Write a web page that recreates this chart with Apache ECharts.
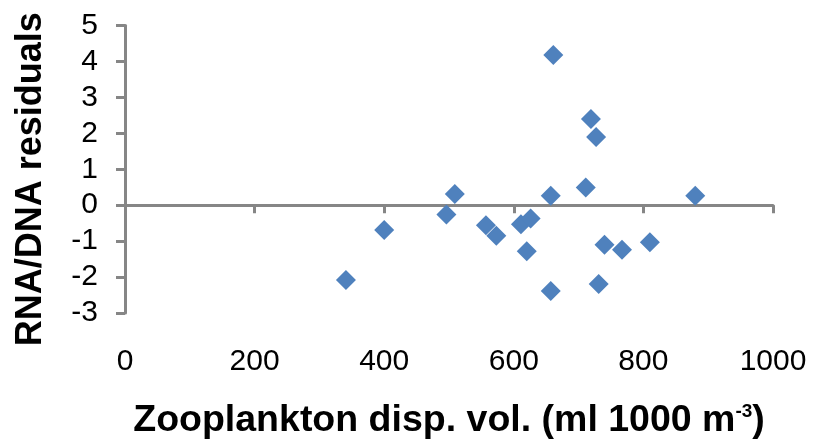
<!DOCTYPE html>
<html>
<head>
<meta charset="utf-8">
<script src="https://cdn.jsdelivr.net/npm/echarts@6/dist/echarts.min.js"></script>
<style>
html,body{margin:0;padding:0;background:#fff;}
#chart{width:820px;height:445px;}
</style>
</head>
<body>
<div id="chart"></div>
<script>
// Zooplankton displacement volume (x) vs RNA/DNA residuals (y)
var zooVol = [341, 400, 509, 496, 557, 573, 611, 626, 620, 657, 657, 711, 740, 731, 767, 810, 880, 661, 719, 727];
var residuals = [-2.08, -0.69, 0.31, -0.26, -0.56, -0.85, -0.53, -0.37, -1.28, 0.26, -2.39, 0.49, -1.10, -2.19, -1.24, -1.03, 0.26, 4.18, 2.40, 1.90];
var xTicks = [0, 200, 400, 600, 800, 1000];
var yTicks = [-3, -2, -1, 0, 1, 2, 3, 4, 5];
var xTitle = 'Zooplankton disp. vol. (ml 1000 m{sup|-3})';
var yTitle = 'RNA/DNA residuals';

var points = zooVol.map(function (v, i) { return [v, residuals[i]]; });
var font = '"Liberation Sans", Arial, sans-serif';
var axisGray = '#868686';

var chart = echarts.init(document.getElementById('chart'), null, {renderer: 'canvas'});
chart.setOption({
  animation: false,
  backgroundColor: '#ffffff',
  grid: {left: 125, right: 47, top: 25.5, bottom: 128.5, containLabel: false},
  xAxis: [{
    type: 'value',
    min: xTicks[0], max: xTicks[xTicks.length - 1], interval: 200,
    position: 'bottom',
    axisLine: {show: true, onZero: true, lineStyle: {color: axisGray, width: 3}},
    axisTick: {show: true, length: 8, lineStyle: {color: axisGray, width: 3}},
    axisLabel: {show: false},
    splitLine: {show: false}
  }, {
    type: 'value',
    min: xTicks[0], max: xTicks[xTicks.length - 1], interval: 200,
    position: 'bottom',
    axisLine: {show: false, onZero: false},
    axisTick: {show: false},
    axisLabel: {show: true, margin: 34, fontSize: 30, color: '#000', fontFamily: font,
      formatter: function (v) { return String(v); }},
    splitLine: {show: false},
    name: xTitle,
    nameLocation: 'middle',
    nameGap: 89,
    nameTextStyle: {
      fontSize: 37.5, fontWeight: 'bold', color: '#000', fontFamily: font,
      rich: {sup: {fontSize: 19, fontWeight: 'bold', verticalAlign: 'top', padding: [0, 0, 15, 0], color: '#000', fontFamily: font}}
    }
  }],
  yAxis: {
    type: 'value',
    min: yTicks[0], max: yTicks[yTicks.length - 1], interval: 1,
    axisLine: {show: true, onZero: false, lineStyle: {color: axisGray, width: 3}},
    axisTick: {show: true, length: 9, lineStyle: {color: axisGray, width: 3}},
    axisLabel: {margin: 27, fontSize: 30, color: '#000', fontFamily: font},
    splitLine: {show: false},
    name: yTitle,
    nameLocation: 'middle',
    nameGap: 76,
    nameRotate: 90,
    nameTextStyle: {fontSize: 36, fontWeight: 'bold', color: '#000', fontFamily: font, padding: [0, 20, 0, 0]}
  },
  series: [{
    type: 'scatter',
    xAxisIndex: 0,
    yAxisIndex: 0,
    symbol: 'diamond',
    symbolSize: 20,
    itemStyle: {color: '#4F81BD', opacity: 1},
    data: points
  }]
});
</script>
</body>
</html>
